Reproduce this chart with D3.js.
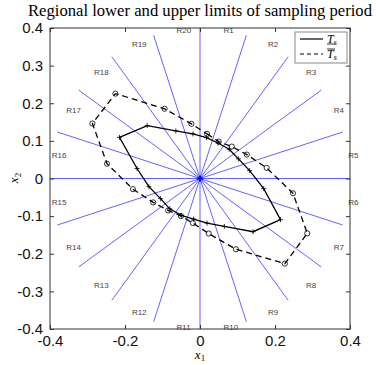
<!DOCTYPE html>
<html>
<head>
<meta charset="utf-8">
<script src="https://cdn.jsdelivr.net/npm/d3@7"></script>
<style>
body{margin:0;background:#fff;}
svg{display:block;}
</style>
</head>
<body>
<svg id="chart" width="376" height="365"></svg>
<script>
//data---------------------------------------------------------
var regions=["R1","R2","R3","R4","R5","R6","R7","R8","R9","R10",
	"R11","R12","R13","R14","R15","R16","R17","R18","R19","R20"];
//centre angle of each region in degrees
var regionAngle=[81,63,45,27,9,-9,-27,-45,-63,-81,
	-99,-117,-135,-153,-171,-189,-207,-225,-243,-261];
//region borders (rays)
var rayAngle=[90,72,54,36,18,0,-18,-36,-54,-72,
	-90,-108,-126,-144,-162,-180,-198,-216,-234,-252];
var rayLength=0.4;
//lower limit radius per region
var lowerR=[0.110,0.106,0.110,0.115,0.134,0.172,0.241,0.200,0.143,0.120,
	0.109,0.110,0.114,0.118,0.138,0.170,0.241,0.199,0.142,0.120];
//upper limit radius per region
var upperR=[0.120,0.110,0.120,0.140,0.180,0.251,0.321,0.320,0.211,0.148,
	0.120,0.112,0.120,0.140,0.181,0.251,0.322,0.319,0.208,0.147];
var xTicks=[-0.4,-0.2,0,0.2,0.4];
var yTicks=[-0.4,-0.3,-0.2,-0.1,0,0.1,0.2,0.3,0.4];

//scales-------------------------------------------------------
var x=d3.scaleLinear().domain([-0.4,0.4]).range([50,350]);
var y=d3.scaleLinear().domain([-0.4,0.4]).range([329,28]);
var svg=d3.select("#chart");
var rad=function(a){return a*Math.PI/180;};
var fmt=function(d){return d===0?"0":d.toFixed(1);};

function toXY(r,i){
	return [r*Math.cos(rad(regionAngle[i])),r*Math.sin(rad(regionAngle[i]))];
}

//rays
svg.append("g").selectAll("line")
	.data(rayAngle)
	.enter()
	.append("line")
	.attr("x1",x(0)).attr("y1",y(0))
	.attr("x2",function(a){return x(rayLength*Math.cos(rad(a)));})
	.attr("y2",function(a){return y(rayLength*Math.sin(rad(a)));})
	.style("stroke","#6262ff")
	.style("stroke-width",1);

//region labels
svg.append("g").selectAll("text")
	.data(regions)
	.enter()
	.append("text")
	.attr("x",function(d,i){return x(0.4*Math.cos(rad(regionAngle[i])));})
	.attr("y",function(d,i){return y(0.4*Math.sin(rad(regionAngle[i])));})
	.attr("dy","0.35em")
	.style("font-family","Liberation Sans, Arial, sans-serif")
	.style("font-size","8px")
	.style("fill","#444")
	.text(function(d){return d;});

//centre marker
svg.append("path")
	.attr("d","M"+(x(0)-3)+","+y(0)+"h6M"+x(0)+","+(y(0)-3)+"v6")
	.style("stroke","#0000ff").style("stroke-width",2);

//limit curves
var line=d3.line().x(function(d){return x(d[0]);}).y(function(d){return y(d[1]);});
var lowPts=lowerR.map(toXY);
var upPts=upperR.map(toXY);

svg.append("path")
	.datum(upPts.concat([upPts[0]]))
	.attr("d",line)
	.style("fill","none").style("stroke","#000")
	.style("stroke-width",1.3).style("stroke-dasharray","6,4");
svg.append("path")
	.datum(lowPts.concat([lowPts[0]]))
	.attr("d",line)
	.style("fill","none").style("stroke","#000")
	.style("stroke-width",1.3);

svg.append("g").selectAll("circle")
	.data(upPts)
	.enter()
	.append("circle")
	.attr("cx",function(d){return x(d[0]);})
	.attr("cy",function(d){return y(d[1]);})
	.attr("r",2.6)
	.style("fill","none").style("stroke","#000").style("stroke-width",0.8);

svg.append("g").selectAll("path")
	.data(lowPts)
	.enter()
	.append("path")
	.attr("d",function(d){var px=x(d[0]),py=y(d[1]);
		return "M"+(px-2.5)+","+py+"h5M"+px+","+(py-2.5)+"v5";})
	.style("stroke","#000").style("stroke-width",0.8);

//axes---------------------------------------------------------
var tickFont=function(g){
	g.selectAll("text").style("font-family","Liberation Sans, Arial, sans-serif")
		.style("font-size","15px").style("fill","#111");
	g.selectAll("line").style("stroke","#333");
	g.select(".domain").remove();
};
svg.append("g").attr("transform","translate(0,329)")
	.call(d3.axisBottom(x).tickValues(xTicks).tickSize(-4).tickPadding(6).tickFormat(fmt))
	.call(tickFont);
svg.append("g").attr("transform","translate(0,28)")
	.call(d3.axisTop(x).tickValues(xTicks).tickSize(-4).tickFormat(""))
	.call(tickFont);
svg.append("g").attr("transform","translate(50,0)")
	.call(d3.axisLeft(y).tickValues(yTicks).tickSize(-4).tickPadding(7).tickFormat(fmt))
	.call(tickFont);
svg.append("g").attr("transform","translate(350,0)")
	.call(d3.axisRight(y).tickValues(yTicks).tickSize(-4).tickFormat(""))
	.call(tickFont);
svg.append("rect")
	.attr("x",50).attr("y",28).attr("width",300).attr("height",301)
	.style("fill","none").style("stroke","#333").style("stroke-width",1);

//title and labels
svg.append("text")
	.attr("x",200).attr("y",16)
	.attr("text-anchor","middle")
	.attr("textLength",344).attr("lengthAdjust","spacingAndGlyphs")
	.style("font-family","Liberation Serif, Times New Roman, serif")
	.style("font-size","16px")
	.text("Regional lower and upper limits of sampling period");
svg.append("text")
	.attr("x",200).attr("y",359)
	.attr("text-anchor","middle")
	.style("font-family","Liberation Serif, serif")
	.style("font-style","italic").style("font-size","13px")
	.html("x<tspan font-size='9px' font-style='normal' dy='2'>1</tspan>");
svg.append("text")
	.attr("transform","translate(18,178) rotate(-90)")
	.attr("text-anchor","middle")
	.style("font-family","Liberation Serif, serif")
	.style("font-style","italic").style("font-size","13px")
	.html("x<tspan font-size='9px' font-style='normal' dy='3'>2</tspan>");

//legend
var leg=svg.append("g");
leg.append("rect")
	.attr("x",295).attr("y",32).attr("width",52).attr("height",31)
	.style("fill","#fff").style("stroke","#888").style("stroke-width",1);
var legRows=[{dash:null,bar:"under",y:39},{dash:"4,3",bar:"over",y:54}];
legRows.forEach(function(r){
	leg.append("line")
		.attr("x1",300).attr("x2",323).attr("y1",r.y).attr("y2",r.y)
		.style("stroke","#000").style("stroke-width",1.2)
		.style("stroke-dasharray",r.dash);
	leg.append("text")
		.attr("x",327).attr("y",r.y+4)
		.style("font-family","Liberation Serif, serif")
		.style("font-style","italic").style("font-size","12px")
		.html("T<tspan font-size='8px' dy='2'>s</tspan>");
	leg.append("line")
		.attr("x1",327).attr("x2",335)
		.attr("y1",r.bar=="under"?r.y+5:r.y-5).attr("y2",r.bar=="under"?r.y+5:r.y-5)
		.style("stroke","#000").style("stroke-width",0.8);
});
</script>
</body>
</html>
